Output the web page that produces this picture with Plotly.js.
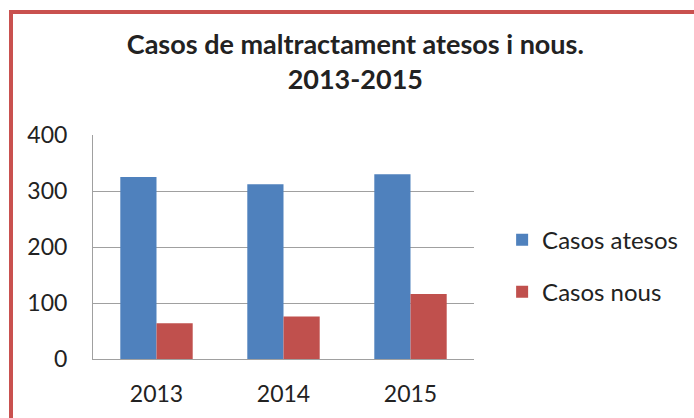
<!DOCTYPE html>
<html>
<head>
<meta charset="utf-8">
<script src="https://cdn.plot.ly/plotly-3.0.1.min.js"></script>
<style>
  body { margin: 0; background: #fff; }
  #wrap { position: relative; width: 694px; height: 418px; }
  #plot { position: absolute; left: 0; top: 0; width: 694px; height: 418px; }
  #frame { position: absolute; left: 9px; top: 10px; width: 690px; height: 420px;
           border-left: 4px solid #c9514f; border-top: 4px solid #c9514f; pointer-events: none; }
</style>
</head>
<body>
<div id="wrap">
  <div id="plot"></div>
  <div id="frame"></div>
</div>
<script>
var years = ["2013", "2014", "2015"];
var casosAtesos = [325, 312, 330];
var casosNous = [64, 76, 116];

function init() {
  var font = "Lato, 'Open Sans', sans-serif";

  var atesos = {
    x: years,
    y: casosAtesos,
    type: "bar",
    name: "Casos atesos",
    legendgroup: "a",
    marker: { color: "#4f81bd" }
  };
  var nous = {
    x: years,
    y: casosNous,
    type: "bar",
    name: "Casos nous",
    legendgroup: "b",
    marker: { color: "#c0504d" }
  };

  var layout = {
    width: 694,
    height: 418,
    margin: { l: 93, r: 219, t: 135, b: 59 },
    paper_bgcolor: "#fff",
    plot_bgcolor: "#fff",
    font: { family: font, color: "#222", size: 23 },
    title: {
      text: "<b>Casos de maltractament atesos i nous.<br>2013-2015</b>",
      font: { family: font, size: 27, color: "#222" },
      x: 0.512,
      xanchor: "center",
      y: 0.87,
      yanchor: "middle"
    },
    barmode: "group",
    bargap: 0.43,
    bargroupgap: 0,
    xaxis: {
      showline: true,
      linecolor: "#a0a0a0",
      linewidth: 1,
      ticks: "",
      ticklabelstandoff: 14,
      tickfont: { size: 23, color: "#222" },
      fixedrange: true
    },
    yaxis: {
      range: [0, 400],
      dtick: 100,
      showline: true,
      linecolor: "#a0a0a0",
      gridcolor: "#a0a0a0",
      gridwidth: 1,
      zeroline: false,
      ticks: "",
      ticklabelstandoff: 20,
      tickfont: { size: 23, color: "#222" },
      fixedrange: true
    },
    legend: {
      x: 1.071,
      xanchor: "left",
      y: 0.415,
      yanchor: "middle",
      traceorder: "grouped",
      tracegroupgap: 18,
      font: { size: 24, color: "#222" }
    },
    showlegend: true
  };

  Plotly.newPlot("plot", [atesos, nous], layout, { displayModeBar: false, staticPlot: true });
}

init();
</script>
</body>
</html>
